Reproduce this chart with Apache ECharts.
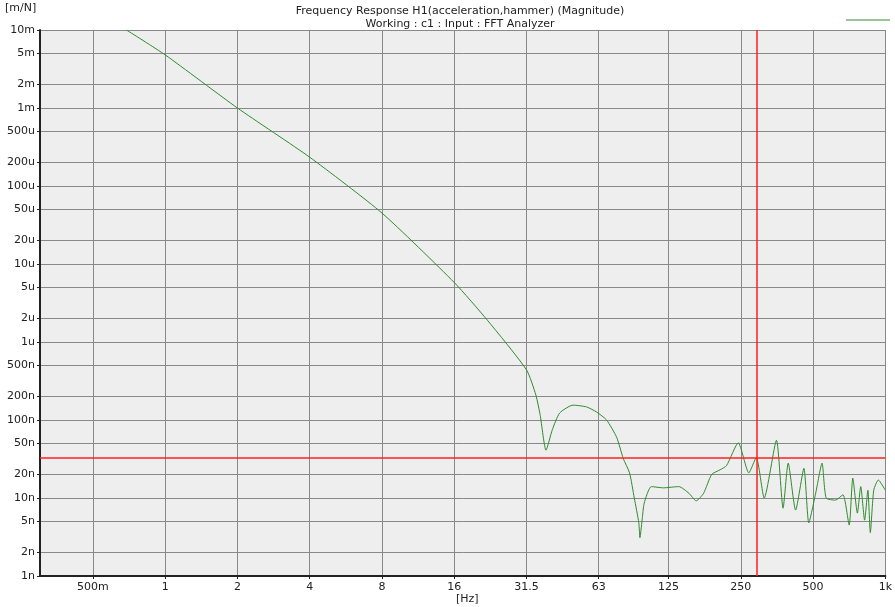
<!DOCTYPE html>
<html><head><meta charset="utf-8">
<script src="https://cdn.jsdelivr.net/npm/echarts@6/dist/echarts.min.js"></script>
<style>html,body{margin:0;padding:0;background:#fff}#c{width:895px;height:607px}</style>
</head><body><div id="c"></div>
<script>
const freqHz = [0.69,1,2,4,8,16,22,32,35,36.5,38.6,41,44,50,57,62.8,69,76,81,86,90,94,95,97,99,106,119,138,152,163,175,189,205,218,244,270,290,313,352,375,394,423,458,480,513,545,567,620,666,707,732,765,790,820,846,866,895,935,1000];
const magMN = [1e-2,4.8e-3,1e-3,2.34e-4,4.5e-5,5.8e-6,1.9e-6,4.4e-7,2.1e-7,1.15e-7,4.1e-8,7.5e-8,1.23e-7,1.55e-7,1.47e-7,1.26e-7,1.0e-7,6.0e-8,3.2e-8,2.1e-8,1.0e-8,4.8e-9,3.1e-9,5.2e-9,8.6e-9,1.4e-8,1.35e-8,1.4e-8,1.15e-8,9.2e-9,1.15e-8,2.0e-8,2.3e-8,2.6e-8,5.1e-8,2.1e-8,3.3e-8,1.0e-8,5.5e-8,7.4e-9,2.8e-8,7e-9,2.4e-8,4.8e-9,1.16e-8,2.8e-8,1.0e-8,9.4e-9,1.1e-8,4.5e-9,1.8e-8,6.4e-9,1.4e-8,5.2e-9,1.26e-8,3.6e-9,1.26e-8,1.7e-8,1.26e-8];
const xTicks = [0.5,1,2,4,8,16,31.5,63,125,250,500,1000];
const xTickLabels = ['500m','1','2','4','8','16','31.5','63','125','250','500','1k'];
const yTicks = [];
for (let e=-9;e<=-2;e++){ [1,2,5].forEach(m=>{ if(!(e===-2&&m>1)) yTicks.push(m*Math.pow(10,e)); }); }
const cursorX = 290, cursorY = 3.3e-8;
const xMin = 0.301, xMax = 1000, yMin = 1e-9, yMax = 1e-2;

function fmtY(v){
  const units=[['m',1e-3],['u',1e-6],['n',1e-9]];
  for(const [s,u] of units){ const r=v/u; if(r>=0.999) return String(Math.round(r))+s; }
  return String(v);
}
const L2=Math.log2, L10=Math.log10;
const xTickPos = xTicks.map(t=>L2(t===31.5?32:t===63?64:t));
const ch = echarts.init(document.getElementById('c'));
ch.setOption({
  animation:false,
  title:{text:'Frequency Response H1(acceleration,hammer) (Magnitude)',subtext:'Working : c1 : Input : FFT Analyzer',left:455,textAlign:'center',top:1,itemGap:2,
    textStyle:{fontFamily:'DejaVu Sans',fontSize:11,fontWeight:'normal',color:'#222'},
    subtextStyle:{fontFamily:'DejaVu Sans',fontSize:11,color:'#222'}},
  graphic:[
    {type:'text',left:5,top:3,style:{text:'[m/N]',font:'11px DejaVu Sans',fill:'#222'}},
    {type:'text',left:456,top:594,style:{text:'[Hz]',font:'11px DejaVu Sans',fill:'#222'}},
    {type:'line',shape:{x1:846,y1:20,x2:890,y2:20},style:{stroke:'#2e8b2e',lineWidth:1}}
  ],
  grid:{left:40,right:5,top:30,bottom:31,show:true,backgroundColor:'#eeeeee',borderWidth:0},
  xAxis:{type:'value',min:L2(xMin),max:L2(xMax),
    axisLine:{show:true,onZero:false,lineStyle:{color:'#222',width:2}},
    axisTick:{show:true,length:3,customValues:xTickPos,lineStyle:{color:'#222'}},
    axisLabel:{customValues:xTickPos,margin:6,fontFamily:'DejaVu Sans',fontSize:11,color:'#222',
      formatter:v=>{const i=xTickPos.findIndex(p=>Math.abs(p-v)<1e-6);return i>=0?xTickLabels[i]:'';}},
    splitLine:{show:true,lineStyle:{color:'#888',width:1}}},
  yAxis:{type:'value',min:L10(yMin),max:L10(yMax),
    axisLine:{show:true,onZero:false,lineStyle:{color:'#222',width:2}},
    axisTick:{show:true,length:3,customValues:yTicks.map(L10),lineStyle:{color:'#222'}},
    axisLabel:{customValues:yTicks.map(L10),margin:5,fontFamily:'DejaVu Sans',fontSize:11,color:'#222',
      formatter:v=>fmtY(Math.pow(10,v))},
    splitLine:{show:true,lineStyle:{color:'#888',width:1}}},
  series:[{type:'line',showSymbol:false,smooth:0.2,z:3,
    data:freqHz.map((f,i)=>[L2(f),L10(magMN[i])]),
    lineStyle:{color:'#2e8b2e',width:1}},
   {type:'line',showSymbol:false,silent:true,z:4,data:[],
    markLine:{silent:true,symbol:'none',label:{show:false},lineStyle:{color:'#ff2020',width:1.5,type:'solid'},
      data:[[{coord:[L2(cursorX),L10(yMin)]},{coord:[L2(cursorX),L10(yMax)]}],
            [{coord:[L2(xMin),L10(cursorY)]},{coord:[L2(xMax),L10(cursorY)]}]]}}]
});
</script></body></html>
